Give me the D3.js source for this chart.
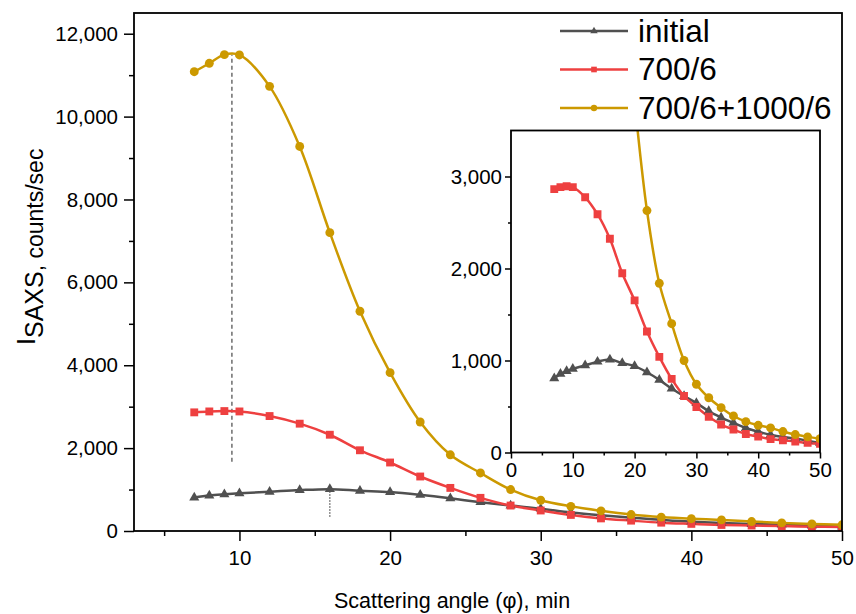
<!DOCTYPE html>
<html>
<head>
<meta charset="utf-8">
<script src="https://cdn.jsdelivr.net/npm/d3@7"></script>
<style>
  body { margin: 0; background: #fff; }
  svg text { font-family: "Liberation Sans", Arial, sans-serif; fill: #000; }
</style>
</head>
<body>
<svg id="chart" width="856" height="614"></svg>
<script>
// scattering angle, min
const angles = [7, 8, 9, 10, 12, 14, 16, 18, 20, 22, 24, 26, 28, 30, 32, 34, 36, 38, 40, 42, 44, 46, 48, 50];
// I_SAXS, counts/sec
const initial = [806, 854, 884, 909, 947, 987, 1010, 972, 939, 872, 789, 695, 613, 538, 449, 380, 322, 266, 226, 193, 169, 153, 128, 104];
const s700 = [2863, 2885, 2894, 2885, 2774, 2590, 2323, 1948, 1653, 1315, 1040, 800, 614, 495, 388, 304, 250, 201, 172, 146, 132, 120, 104, 95];
const s700_1000 = [11083, 11286, 11495, 11487, 10730, 9279, 7200, 5303, 3821, 2630, 1839, 1400, 1000, 742, 595, 487, 397, 336, 296, 268, 228, 195, 170, 150];

const seriesNames = ['initial', '700/6', '700/6+1000/6'];
const seriesColors = ['#505050', '#ee4040', '#cc9900'];
const seriesSymbols = [d3.symbolTriangle, d3.symbolSquare, d3.symbolCircle];
const seriesValues = [initial, s700, s700_1000];

// peak markers: x, from, to
const peakLines = [
  { x: 9.5, y0: 1670, y1: 11490, dash: '4,3' },
  { x: 16, y0: 345, y1: 1010, dash: '1.5,1.5' }
];

const mainXTicks = [10, 20, 30, 40, 50];
const mainYTicks = [0, 2000, 4000, 6000, 8000, 10000, 12000];
const insetXTicks = [0, 10, 20, 30, 40, 50];
const insetYTicks = [0, 1000, 2000, 3000];

const svg = d3.select('#chart');
const fmt = d3.format(',');

const series = seriesNames.map((name, i) => ({
  name: name,
  color: seriesColors[i],
  symbol: seriesSymbols[i],
  points: angles.map((a, j) => ({ x: a, y: seriesValues[i][j] }))
}));

function drawPanel(g, x, y, opts) {
  const [x0, x1] = x.range();
  const [y0, y1] = y.range();

  const clipId = 'clip-' + opts.id;
  g.append('clipPath').attr('id', clipId)
    .append('rect').attr('x', x0).attr('y', y1).attr('width', x1 - x0).attr('height', y0 - y1);

  g.append('rect').attr('x', x0).attr('y', y1).attr('width', x1 - x0).attr('height', y0 - y1)
    .attr('fill', '#fff');

  const line = d3.line().x(d => x(d.x)).y(d => y(d.y)).curve(d3.curveCatmullRom.alpha(0.5));

  const plot = g.append('g').attr('clip-path', `url(#${clipId})`);

  if (opts.peaks) {
    opts.peaks.forEach(p => {
      plot.append('line')
        .attr('x1', x(p.x)).attr('x2', x(p.x))
        .attr('y1', y(p.y0)).attr('y2', y(p.y1))
        .attr('stroke', '#555').attr('stroke-width', 1.3)
        .attr('stroke-dasharray', p.dash);
    });
  }

  series.forEach(s => {
    plot.append('path').datum(s.points)
      .attr('fill', 'none').attr('stroke', s.color).attr('stroke-width', opts.lw)
      .attr('d', line);
  });
  series.forEach(s => {
    plot.selectAll(null).data(s.points).enter().append('path')
      .attr('transform', d => `translate(${x(d.x)},${y(d.y)})`)
      .attr('d', d3.symbol().type(s.symbol).size(s.symbol === d3.symbolTriangle ? 44 : 62))
      .attr('fill', s.color);
  });

  // axes
  g.append('g').attr('transform', `translate(0,${y0})`)
    .call(d3.axisBottom(x).tickValues(opts.xTicks).tickSize(opts.tick).tickPadding(opts.xPad).tickFormat(d3.format('d')));
  g.append('g').attr('transform', `translate(0,${y0})`)
    .call(d3.axisBottom(x).tickValues(opts.xMinor).tickSize(opts.minor).tickFormat(''));
  g.append('g').attr('transform', `translate(${x0},0)`)
    .call(d3.axisLeft(y).tickValues(opts.yTicks).tickSize(opts.tick).tickPadding(opts.yPad).tickFormat(fmt));
  g.append('g').attr('transform', `translate(${x0},0)`)
    .call(d3.axisLeft(y).tickValues(opts.yMinor).tickSize(opts.minor).tickFormat(''));

  g.selectAll('.domain').remove();
  g.selectAll('.tick line').attr('stroke', '#000').attr('stroke-width', 1.5);
  g.selectAll('.tick text').attr('font-size', opts.fs).attr('fill', '#000')
    .attr('font-family', '"Liberation Sans", Arial, sans-serif');

  g.append('rect').attr('x', x0).attr('y', y1).attr('width', x1 - x0).attr('height', y0 - y1)
    .attr('fill', 'none').attr('stroke', '#000').attr('stroke-width', 1.8);
}

// main panel
const xMain = d3.scaleLinear().domain([3, 50]).range([134, 842]);
const yMain = d3.scaleLinear().domain([0, 12500]).range([531, 13]);
drawPanel(svg.append('g'), xMain, yMain, {
  id: 'main', lw: 2.5, fs: 20.5, tick: 10, minor: 5, xPad: 9.5, yPad: 6,
  xTicks: mainXTicks, xMinor: [5, 15, 25, 35, 45],
  yTicks: mainYTicks, yMinor: [1000, 3000, 5000, 7000, 9000, 11000],
  peaks: peakLines
});

// inset panel
const xIn = d3.scaleLinear().domain([0, 50]).range([511, 820]);
const yIn = d3.scaleLinear().domain([0, 3500]).range([452.5, 130.5]);
drawPanel(svg.append('g'), xIn, yIn, {
  id: 'inset', lw: 2.5, fs: 20.5, tick: 6, minor: 3, xPad: 4, yPad: 3,
  xTicks: insetXTicks, xMinor: [5, 15, 25, 35, 45],
  yTicks: insetYTicks, yMinor: [500, 1500, 2500]
});

// legend
const legend = svg.append('g');
series.forEach((s, i) => {
  const ly = 31 + i * 38.5;
  legend.append('line').attr('x1', 560).attr('x2', 628).attr('y1', ly).attr('y2', ly)
    .attr('stroke', s.color).attr('stroke-width', 2.5);
  legend.append('path').attr('transform', `translate(594,${ly})`)
    .attr('d', d3.symbol().type(s.symbol).size(s.symbol === d3.symbolTriangle ? 24 : 32))
    .attr('fill', s.color);
  legend.append('text').attr('x', 638).attr('y', ly + 10.5)
    .attr('font-size', 31.5).text(s.name);
});

// axis titles
svg.append('text').attr('x', 452).attr('y', 608).attr('text-anchor', 'middle')
  .attr('font-size', 21.5).text('Scattering angle (φ), min');

const yt = svg.append('text').attr('transform', 'translate(35,345) rotate(-90)')
  .attr('font-size', 25);
yt.append('tspan').text('I');
yt.append('tspan').attr('dy', 8).text('SAXS');
yt.append('tspan').attr('font-size', 23).text(', counts/sec');
</script>
</body>
</html>
